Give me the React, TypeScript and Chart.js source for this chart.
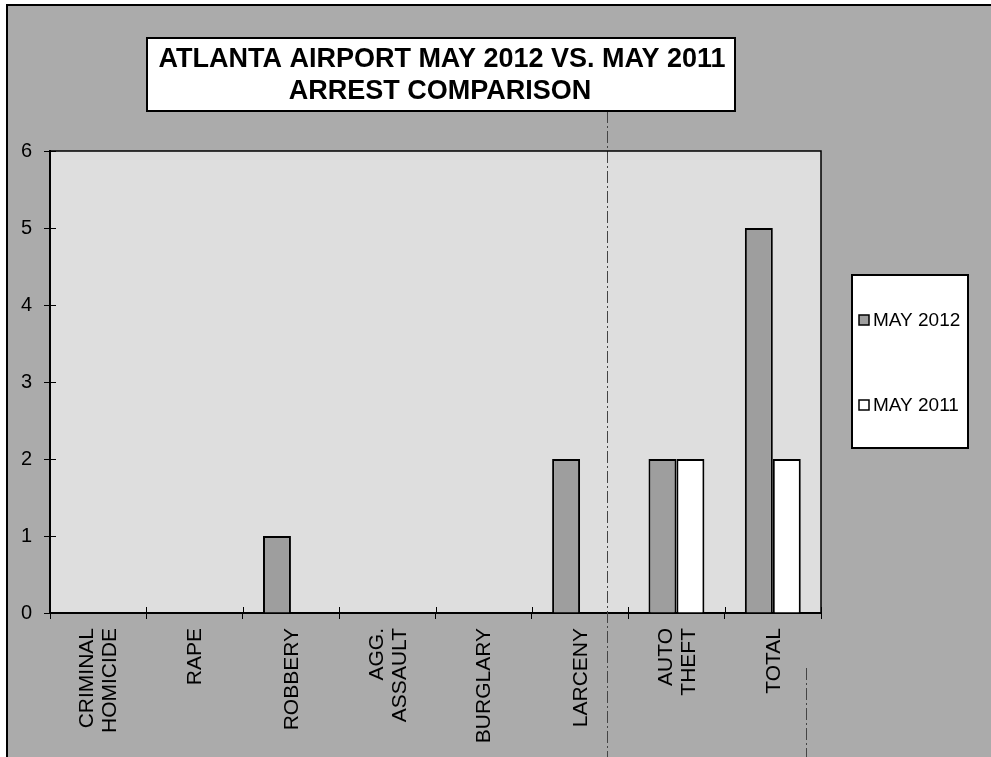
import React, { useEffect, useRef } from "react";
import { Chart, registerables } from "chart.js";

Chart.register(...registerables);

const categories: string[][] = [
  ["CRIMINAL", "HOMICIDE"],
  ["RAPE"],
  ["ROBBERY"],
  ["AGG.", "ASSAULT"],
  ["BURGLARY"],
  ["LARCENY"],
  ["AUTO", "THEFT"],
  ["TOTAL"],
];
const may2012 = [0, 0, 1, 0, 0, 2, 2, 5];
const may2011 = [0, 0, 0, 0, 0, 0, 2, 2];
const seriesNames = ["MAY 2012", "MAY 2011"];
const titleLines = ["ATLANTA AIRPORT MAY 2012 VS. MAY 2011", "ARREST COMPARISON"];
const yMin = 0;
const yMax = 6;
const yStep = 1;

const OUTER_BG = "#ababab";
const PLOT_BG = "#dedede";
const BAR_2012 = "#9e9e9e";
const BAR_2011 = "#ffffff";
const FONT = "'Liberation Sans', Arial, sans-serif";

const decor = {
  id: "decor",
  beforeDraw(chart: any) {
    const { ctx, chartArea: a, width, height } = chart;
    ctx.save();
    ctx.fillStyle = "#ffffff";
    ctx.fillRect(0, 0, width, height);
    ctx.fillStyle = OUTER_BG;
    ctx.fillRect(7, 5, width - 7, height - 5);
    ctx.strokeStyle = "#000";
    ctx.lineWidth = 2;
    ctx.beginPath();
    ctx.moveTo(7, height);
    ctx.lineTo(7, 5);
    ctx.lineTo(width, 5);
    ctx.stroke();
    ctx.fillStyle = PLOT_BG;
    ctx.fillRect(a.left, a.top, a.right - a.left, a.bottom - a.top);
    ctx.restore();
  },
  beforeDatasetsDraw(chart: any) {
    const { ctx, height } = chart;
    ctx.save();
    ctx.strokeStyle = "#444";
    ctx.lineWidth = 1;
    ctx.setLineDash([12, 3, 2, 3]);
    ctx.beginPath();
    ctx.moveTo(607.5, 111);
    ctx.lineTo(607.5, height);
    ctx.moveTo(806.5, 668);
    ctx.lineTo(806.5, height);
    ctx.stroke();
    ctx.restore();
  },
  afterDraw(chart: any) {
    const { ctx, chartArea: a } = chart;
    const xs = chart.scales.x;
    const ys = chart.scales.y;
    ctx.save();
    ctx.strokeStyle = "#000";
    ctx.lineWidth = 1.5;
    ctx.beginPath();
    ctx.moveTo(a.left, a.top);
    ctx.lineTo(a.right, a.top);
    ctx.lineTo(a.right, a.bottom);
    ctx.stroke();
    ctx.lineWidth = 1;
    ctx.beginPath();
    ys.ticks.forEach((_t: any, i: number) => {
      const y = Math.round(ys.getPixelForTick(i)) + 0.5;
      ctx.moveTo(a.left, y);
      ctx.lineTo(a.left + 6, y);
    });
    const step = xs.getPixelForValue(1) - xs.getPixelForValue(0);
    for (let i = 0; i <= categories.length; i++) {
      const x = Math.round(xs.getPixelForValue(0) - step / 2 + i * step) + 0.5;
      ctx.moveTo(x, a.bottom);
      ctx.lineTo(x, a.bottom - 6);
    }
    ctx.stroke();
    ctx.fillStyle = "#000";
    ctx.font = `21px ${FONT}`;
    ctx.textAlign = "right";
    ctx.textBaseline = "middle";
    const lineGap = 23;
    categories.forEach((lines, i) => {
      const cx = xs.getPixelForValue(i);
      lines.forEach((line, j) => {
        const off = (j - (lines.length - 1) / 2) * lineGap;
        ctx.save();
        ctx.translate(cx + off, a.bottom + 15);
        ctx.rotate(-Math.PI / 2);
        ctx.fillText(line, 0, 1);
        ctx.restore();
      });
    });
    ctx.fillStyle = "#fff";
    ctx.fillRect(147, 38, 588, 73);
    ctx.strokeStyle = "#000";
    ctx.lineWidth = 2;
    ctx.strokeRect(147, 38, 588, 73);
    ctx.fillStyle = "#000";
    ctx.font = `bold 27px ${FONT}`;
    ctx.textAlign = "center";
    ctx.textBaseline = "middle";
    ctx.fillText(titleLines[0], 442, 60);
    ctx.fillText(titleLines[1], 440, 92);
    ctx.fillStyle = "#fff";
    ctx.fillRect(852, 275, 116, 173);
    ctx.strokeRect(852, 275, 116, 173);
    const colors = [BAR_2012, BAR_2011];
    const ys2 = [320, 405];
    ctx.font = `19px ${FONT}`;
    ctx.textAlign = "left";
    seriesNames.forEach((name, i) => {
      ctx.fillStyle = colors[i];
      ctx.fillRect(859, ys2[i] - 5, 10, 10);
      ctx.lineWidth = 1.5;
      ctx.strokeStyle = "#000";
      ctx.strokeRect(859, ys2[i] - 5, 10, 10);
      ctx.fillStyle = "#000";
      ctx.fillText(name, 873, ys2[i] + 1);
    });
    ctx.restore();
  },
};

export default function App() {
  const ref = useRef<HTMLCanvasElement | null>(null);
  useEffect(() => {
    document.body.style.margin = "0";
    const canvas = ref.current;
    if (!canvas) return;
    const chart = new Chart(canvas, {
      type: "bar",
      data: {
        labels: categories.map((c) => c.join(" ")),
        datasets: [
          {
            label: seriesNames[0],
            data: may2012,
            backgroundColor: BAR_2012,
            borderColor: "#000",
            borderWidth: 2,
            categoryPercentage: 0.58,
            barPercentage: 1,
          },
          {
            label: seriesNames[1],
            data: may2011,
            backgroundColor: BAR_2011,
            borderColor: "#000",
            borderWidth: 2,
            categoryPercentage: 0.58,
            barPercentage: 1,
          },
        ],
      },
      options: {
        responsive: false,
        animation: false,
        devicePixelRatio: 1,
        layout: { padding: { top: 151, right: 170, left: 0, bottom: 0 } },
        plugins: {
          legend: { display: false },
          title: { display: false },
          tooltip: { enabled: false },
        },
        scales: {
          x: {
            grid: {
              offset: true,
              drawOnChartArea: false,
              tickLength: 6,
              color: "#000",
              lineWidth: 1,
            },
            border: { display: true, color: "#000", width: 2 },
            ticks: { display: false },
            afterFit: (s: any) => {
              s.height = 144;
            },
          },
          y: {
            min: yMin,
            max: yMax,
            grid: {
              drawOnChartArea: false,
              tickLength: 6,
              color: "#000",
              lineWidth: 1,
            },
            border: { display: true, color: "#000", width: 2 },
            ticks: {
              stepSize: yStep,
              color: "#000",
              padding: 12,
              font: { family: FONT, size: 20 },
            },
            afterFit: (s: any) => {
              s.width = 50;
            },
          },
        },
      },
      plugins: [decor],
    });
    return () => chart.destroy();
  }, []);
  return <canvas ref={ref} width={991} height={757} style={{ display: "block" }} />;
}
